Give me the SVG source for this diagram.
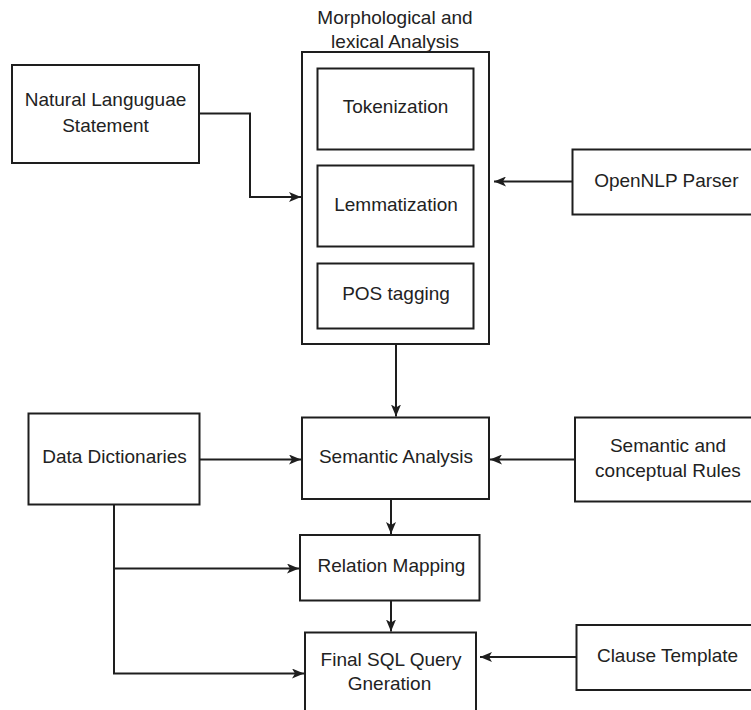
<svg xmlns="http://www.w3.org/2000/svg" width="751" height="710" viewBox="0 0 751 710">
<style>
.box{fill:#fff;stroke:#1e1e1e;stroke-width:2}
.t{font-family:"Liberation Sans",Arial,sans-serif;font-size:19px;fill:#222;text-anchor:middle}
.c{fill:none;stroke:#1e1e1e;stroke-width:2}
</style>
<defs>
<marker id="ah" viewBox="0 0 12 10" refX="12" refY="5" markerWidth="12" markerHeight="10" markerUnits="userSpaceOnUse" orient="auto">
<path d="M0,0 L12,5 L0,10 L3,5 z" fill="#1e1e1e"/>
</marker>
</defs>
<rect width="751" height="710" fill="#fff"/>
<g id="nl">
<rect class="box" x="12" y="65" width="187" height="98"/>
<text class="t" x="105.5" y="105.5">Natural Languguae</text>
<text class="t" x="105.5" y="131.5">Statement</text>
</g>
<g id="morph">
<text class="t" x="395" y="23.5">Morphological and</text>
<text class="t" x="395" y="48">lexical Analysis</text>
<rect class="box" x="302" y="52" width="187" height="292"/>
</g>
<g id="token">
<rect class="box" x="317.5" y="68.5" width="156" height="81"/>
<text class="t" x="395.5" y="113">Tokenization</text>
</g>
<g id="lemma">
<rect class="box" x="317.5" y="165.5" width="156" height="81"/>
<text class="t" x="396" y="210.5">Lemmatization</text>
</g>
<g id="pos">
<rect class="box" x="317.5" y="263.5" width="156" height="65"/>
<text class="t" x="396" y="299.5">POS tagging</text>
</g>
<g id="opennlp">
<rect class="box" x="572.5" y="149.5" width="190" height="65"/>
<text class="t" x="666.3" y="186.5">OpenNLP Parser</text>
</g>
<g id="dd">
<rect class="box" x="28.5" y="413.5" width="171" height="91"/>
<text class="t" x="114.5" y="462.5">Data Dictionaries</text>
</g>
<g id="semantic">
<rect class="box" x="302" y="417.5" width="187" height="81.5"/>
<text class="t" x="396" y="463">Semantic Analysis</text>
</g>
<g id="rules">
<rect class="box" x="575" y="417.5" width="190" height="84"/>
<text class="t" x="668" y="451.5">Semantic and</text>
<text class="t" x="668" y="476.5">conceptual Rules</text>
</g>
<g id="relation">
<rect class="box" x="300" y="535" width="179.5" height="65.5"/>
<text class="t" x="391.5" y="571.5">Relation Mapping</text>
</g>
<g id="final">
<rect class="box" x="305" y="632.5" width="171" height="90"/>
<text class="t" x="391" y="666">Final SQL Query</text>
<text class="t" x="389.5" y="690">Gneration</text>
</g>
<g id="clause">
<rect class="box" x="576.5" y="625" width="190" height="65"/>
<text class="t" x="667.5" y="661.5">Clause Template</text>
</g>
<g id="connectors">
<path class="c" d="M199,113.5 H250 V197 H301" marker-end="url(#ah)"/>
<path class="c" d="M572.5,181.5 H494" marker-end="url(#ah)"/>
<path class="c" d="M396,344 V416.5" marker-end="url(#ah)"/>
<path class="c" d="M199.5,459.5 H301" marker-end="url(#ah)"/>
<path class="c" d="M575,459.5 H490" marker-end="url(#ah)"/>
<path class="c" d="M391,499 V534" marker-end="url(#ah)"/>
<path class="c" d="M114,504.5 V673.5 H304" marker-end="url(#ah)"/>
<path class="c" d="M114,568.5 H299" marker-end="url(#ah)"/>
<path class="c" d="M391,600.5 V631.5" marker-end="url(#ah)"/>
<path class="c" d="M576.5,657 H480" marker-end="url(#ah)"/>
</g>
</svg>
